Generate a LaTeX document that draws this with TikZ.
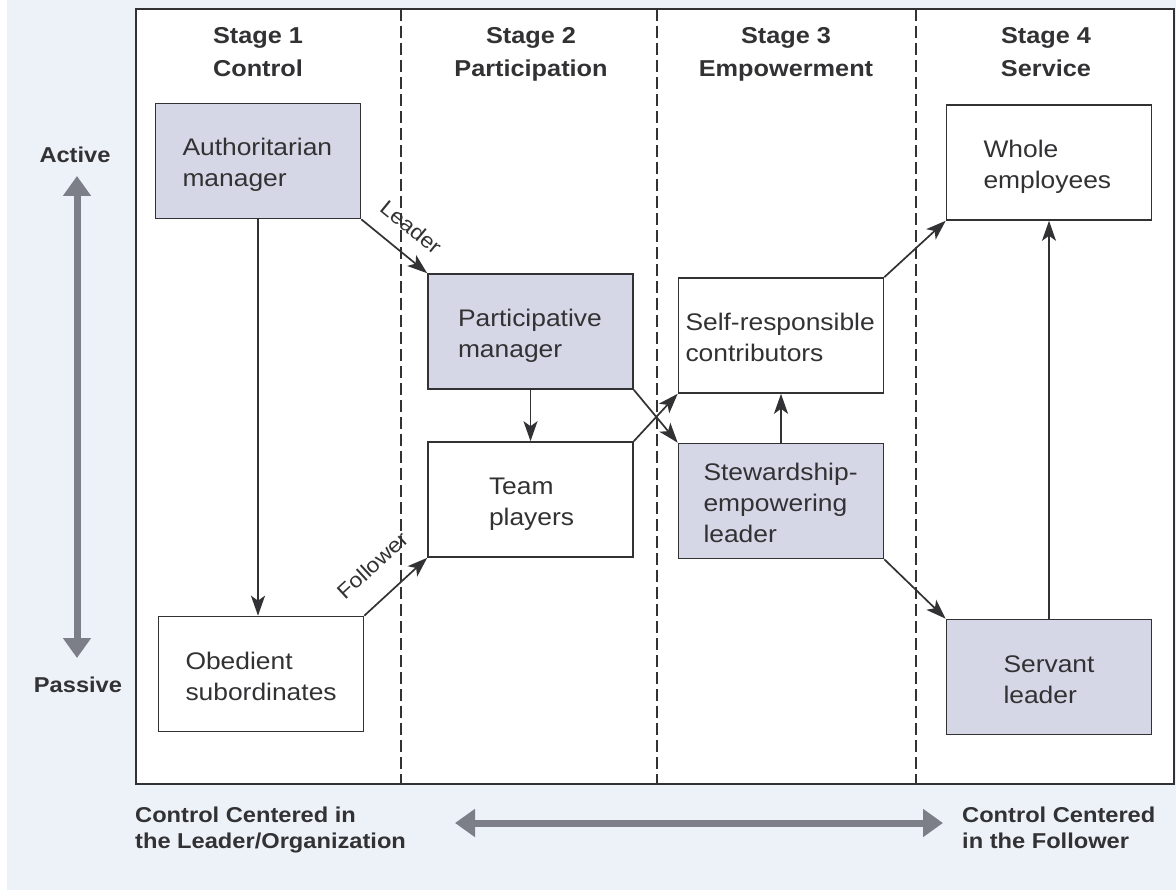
\documentclass[tikz,border=0pt]{standalone}
\usepackage{fontspec}
\setmainfont{Liberation Sans}[FakeStretch=1.1]
\usetikzlibrary{arrows.meta,calc}
\definecolor{paper}{RGB}{237,241,248}
\definecolor{ink}{RGB}{50,50,52}
\definecolor{shade}{RGB}{214,215,230}
\definecolor{bigarrowc}{RGB}{125,127,136}
\tikzset{
  stagebox/.style={draw=ink, line width=1.6pt, fill=white,
    minimum width=205pt, minimum height=115pt, text width=205pt,
    inner sep=0pt, align=left, text height=21pt, text depth=31pt,
    font=\fontsize{24}{31}\selectfont, text=ink},
  shadedbox/.style={stagebox, fill=shade},
  textindent/.style={execute at begin node={\leftskip=#1\relax\hyphenpenalty=10000\relax}},
  conn/.style={draw=ink, line width=1.7pt, -{Stealth[length=20pt,width=14pt,inset=5pt]}},
  stagehead/.style={anchor=base, inner sep=0pt, font=\bfseries\fontsize{23}{28}\selectfont, text=ink},
  axislbl/.style={anchor=base, inner sep=0pt, font=\bfseries\fontsize{21.5}{25}\selectfont, text=ink},
  flowlbl/.style={inner sep=0pt, font=\fontsize{21}{25}\selectfont, text=ink, sloped},
  bigarr/.style={draw=bigarrowc, line width=7pt,
    {Triangle[length=20pt,width=27pt]}-{Triangle[length=20pt,width=27pt]}},
}
\begin{document}
\begin{tikzpicture}[x=1pt,y=-1pt]
  % page and frame
  \useasboundingbox (0,0) rectangle (1176,890);
  \fill[paper] (0,0) rectangle (1176,890);
  \fill[white] (0,0) rectangle (7,890);
  \draw[ink, line width=1.6pt, fill=white] (136,9) rectangle (1174,784);
  \foreach \x in {401,657,916}
    \draw[ink, line width=1.4pt, dash pattern=on 12pt off 5pt] (\x,9) -- (\x,784);

  % stage headings
  \node[stagehead] (h1a) at (258,44) {Stage 1};
  \node[stagehead] (h1b) at (258,77) {Control};
  \node[stagehead] (h2a) at (531,44) {Stage 2};
  \node[stagehead] (h2b) at (531,77) {Participation};
  \node[stagehead] (h3a) at (786,44) {Stage 3};
  \node[stagehead] (h3b) at (786,77) {Empowerment};
  \node[stagehead] (h4a) at (1046,44) {Stage 4};
  \node[stagehead] (h4b) at (1046,77) {Service};

  % roles
  \node[shadedbox, textindent=27pt] (auth) at (258,161) {Authoritarian\\manager};
  \node[stagebox, textindent=27pt] (obed) at (261,674) {Obedient\\subordinates};
  \node[shadedbox, textindent=30pt] (part) at (530.5,331.5) {Participative\\manager};
  \node[stagebox, textindent=61pt] (team) at (530.5,499.5) {Team\\players};
  \node[stagebox, textindent=7pt] (self) at (781,335.5) {Self-responsible\\contributors};
  \node[shadedbox, textindent=25pt, text depth=62pt] (stew) at (781,501) {Stewardship-\\empowering\\leader};
  \node[stagebox, textindent=37pt] (whole) at (1049,162.5) {Whole\\employees};
  \node[shadedbox, textindent=57pt] (serv) at (1049,677) {Servant\\leader};

  % connectors
  \draw[conn] (auth.south) -- (obed.north -| auth.south);
  \draw[conn] (auth.south east) -- node[flowlbl, above=17pt, pos=0.51] (ldr) {Leader} (part.north west);
  \draw[conn] (obed.north east) -- node[flowlbl, above=23pt, pos=0.47] (flw) {Follower} (team.south west);
  \draw[conn] (part.south) -- (team.north);
  \draw[conn] (part.south east) -- (stew.north west);
  \draw[conn] (team.north east) -- (self.south west);
  \draw[conn] (stew.north) -- (self.south);
  \draw[conn] (self.north east) -- (whole.south west);
  \draw[conn] (stew.south east) -- (serv.north west);
  \draw[conn] (serv.north) -- (whole.south);

  % activity axis
  \node[axislbl] (act) at (75,163) {Active};
  \node[axislbl] (pas) at (78,692) {Passive};
  \coordinate (vtop) at (77,176);
  \coordinate (vbot) at (77,658);
  \draw[bigarr] (vtop) -- (vbot);

  % control axis
  \node[axislbl, anchor=base west] (cl1) at (135,822) {Control Centered in};
  \node[axislbl, anchor=base west] (cl2) at (135,848) {the Leader/Organization};
  \node[axislbl, anchor=base west] (cf1) at (962,822) {Control Centered};
  \node[axislbl, anchor=base west] (cf2) at (962,848) {in the Follower};
  \coordinate (hleft) at (455,823);
  \coordinate (hright) at (943,823);
  \draw[bigarr] (hleft) -- (hright);
\end{tikzpicture}
\end{document}
